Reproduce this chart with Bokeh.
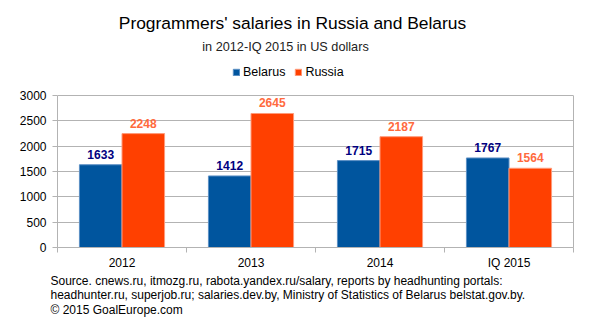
from bokeh.plotting import figure
from bokeh.models import (ColumnDataSource, Range1d, FixedTicker, Title, Legend, LegendItem,
                          Label, LinearAxis)
from bokeh.transform import dodge
from bokeh.core.properties import value
from bokeh.embed import file_html
from bokeh.resources import INLINE
import numpy as np

categories = ["2012", "2013", "2014", "IQ 2015"]
belarus = [1633, 1412, 1715, 1767]
russia = [2248, 2645, 2187, 1564]
y_ticks = [0, 500, 1000, 1500, 2000, 2500, 3000]
y_max = 3000
y_view_top = 4875  # headroom above the plot area for title and legend

title_text = "Programmers' salaries in Russia and Belarus"
subtitle_text = "in 2012-IQ 2015 in US dollars"
footer_lines = [
    "Source. cnews.ru, itmozg.ru, rabota.yandex.ru/salary, reports by headhunting portals:",
    "headhunter.ru, superjob.ru; salaries.dev.by, Ministry of Statistics of Belarus belstat.gov.by.",
    "\u00a9 2015 GoalEurope.com",
]

FONT = "Liberation Sans"
BLUE = "#00559e"
ORANGE = "#ff4000"
GRID = "#b3b3b3"

xc = np.arange(len(categories)) + 0.5
src = ColumnDataSource(dict(
    x=xc, belarus=belarus, russia=russia,
    bl=[str(v) for v in belarus], rl=[str(v) for v in russia],
))

p = figure(width=591, height=321, output_backend="svg", toolbar_location=None,
           x_range=Range1d(0, len(categories)), y_range=Range1d(0, y_view_top),
           min_border_left=57, min_border_right=18, min_border_top=0, min_border_bottom=74)
p.title = None
p.background_fill_color = "white"
p.border_fill_color = "white"
p.outline_line_color = None

w = 0.33
rb = p.vbar(x=dodge("x", -w / 2), top="belarus", width=w, source=src,
            fill_color=BLUE, line_color="#5b8fc4", line_width=1)
rr = p.vbar(x=dodge("x", w / 2), top="russia", width=w, source=src,
            fill_color=ORANGE, line_color="#ff9a7a", line_width=1)

p.text(x=dodge("x", -w / 2), y="belarus", text="bl", source=src, y_offset=-6,
       text_align="center", text_baseline="bottom", text_font=value(FONT),
       text_font_size="12px", text_font_style="bold", text_color="#000080")
p.text(x=dodge("x", w / 2), y="russia", text="rl", source=src, y_offset=-6,
       text_align="center", text_baseline="bottom", text_font=value(FONT),
       text_font_size="12px", text_font_style="bold", text_color="#ff6a3d")

# axes
p.xgrid.visible = False
p.ygrid.grid_line_color = GRID
p.ygrid.ticker = FixedTicker(ticks=y_ticks)

p.yaxis.ticker = FixedTicker(ticks=y_ticks)
p.yaxis.bounds = (0, y_max)
p.yaxis.axis_line_color = GRID
p.yaxis.major_tick_line_color = GRID
p.yaxis.major_tick_out = 5
p.yaxis.major_tick_in = 0
p.yaxis.minor_tick_line_color = None
p.yaxis.major_label_standoff = 6
p.yaxis.major_label_text_font = FONT
p.yaxis.major_label_text_font_size = "12px"
p.yaxis.major_label_text_color = "black"

right_axis = LinearAxis(ticker=FixedTicker(ticks=[]), bounds=(0, y_max),
                        axis_line_color=GRID, major_tick_line_color=None,
                        minor_tick_line_color=None, major_label_text_alpha=0)
p.add_layout(right_axis, "right")

p.xaxis.ticker = FixedTicker(ticks=list(xc), minor_ticks=list(range(len(categories) + 1)))
p.xaxis.major_label_overrides = {float(x): c for x, c in zip(xc, categories)}
p.xaxis.axis_line_color = GRID
p.xaxis.major_tick_line_color = None
p.xaxis.major_tick_out = 0
p.xaxis.major_tick_in = 0
p.xaxis.minor_tick_line_color = GRID
p.xaxis.minor_tick_out = 5
p.xaxis.minor_tick_in = 0
p.xaxis.major_label_standoff = 3
p.xaxis.major_label_text_font = FONT
p.xaxis.major_label_text_font_size = "12px"
p.xaxis.major_label_text_color = "black"

# titles inside the (extended) frame, screen units from the frame's bottom-left
p.add_layout(Label(x=235, y=225, x_units="screen", y_units="screen", text=title_text,
                   text_align="center", text_baseline="alphabetic", text_font=FONT,
                   text_font_size="17.4px", text_color="black"))
p.add_layout(Label(x=228, y=201, x_units="screen", y_units="screen", text=subtitle_text,
                   text_align="center", text_baseline="alphabetic", text_font=FONT,
                   text_font_size="12.7px", text_color="#222222"))

legend = Legend(items=[LegendItem(label="Belarus", renderers=[rb]),
                       LegendItem(label="Russia", renderers=[rr])],
                orientation="horizontal", location=(175, 168),
                glyph_width=8, glyph_height=8, label_standoff=3, spacing=9,
                padding=0, margin=0, border_line_color=None, background_fill_alpha=0,
                label_text_font=FONT, label_text_font_size="12.5px", label_text_color="black")
p.add_layout(legend, "center")

for i, line in enumerate(footer_lines):
    p.add_layout(Title(text=line, align="left", offset=-7, text_font=FONT,
                       text_font_size="12px", text_font_style="normal", text_color="black",
                       standoff=-2 if i == 0 else -1), "below")

open("out.html", "w").write(file_html(p, INLINE))
